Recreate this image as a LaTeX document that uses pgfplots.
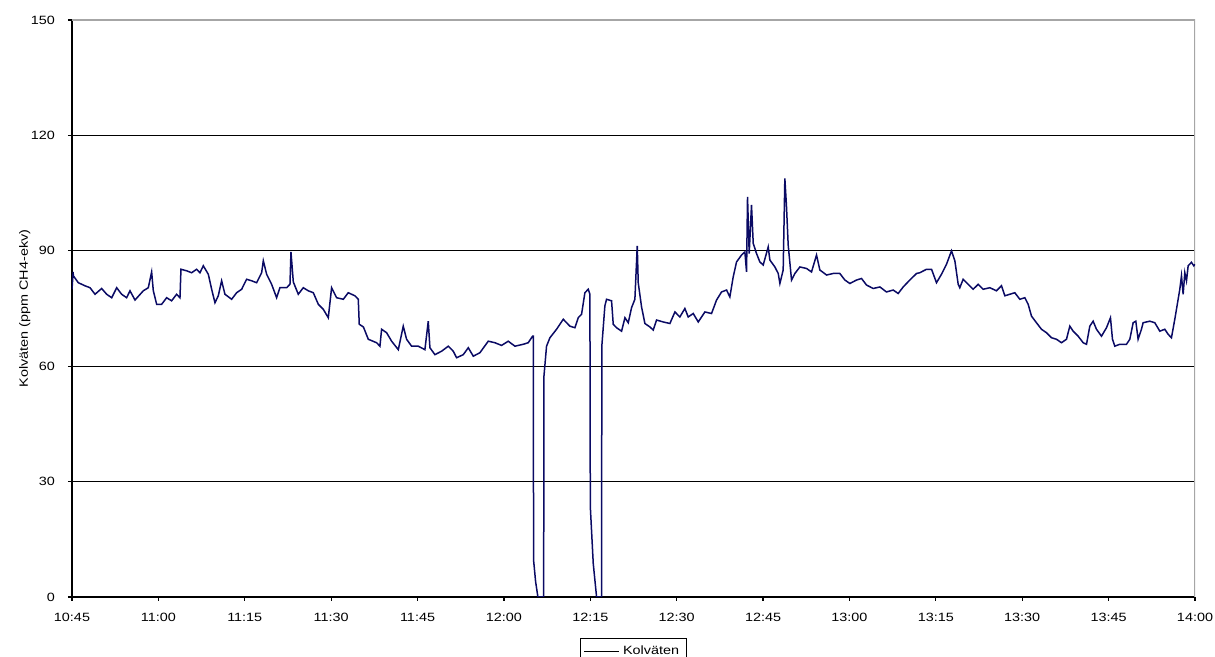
\documentclass[border=0pt]{standalone}
\usepackage{fontspec}
\setmainfont{Liberation Sans}
\newfontfamily\widefont[FakeStretch=1.2]{Liberation Sans}
\usepackage{pgfplots}
\pgfplotsset{compat=1.18}
\definecolor{navyline}{RGB}{10,10,100}
\begin{document}
\begin{tikzpicture}
\begin{axis}[
  scale only axis,
  width=561.5pt, height=288.5pt,
  xmin=0, xmax=195, ymin=0, ymax=150,
  axis lines*=left,
  axis line style={black, line width=0.7pt},
  xtick={0,15,...,195},
  xticklabels={10:45,11:00,11:15,11:30,11:45,12:00,12:15,12:30,12:45,13:00,13:15,13:30,13:45,14:00},
  ytick={0,30,60,90,120},
  extra y ticks={150},
  extra y tick style={grid=none},
  ymajorgrids,
  grid style={black, line width=0.6pt},
  tick align=outside,
  major tick length=2pt,
  tick style={black, line width=0.6pt},
  /pgf/number format/assume math mode=true,
  tick label style={font=\widefont\fontsize{6}{7}\selectfont},
  xticklabel style={yshift=-2.5pt},
  yticklabel style={xshift=-3pt},
  ylabel={Kolväten (ppm CH4-ekv)},
  ylabel style={font=\widefont\fontsize{6}{7}\selectfont, at={(axis description cs:-0.042,0.5)}, anchor=center, rotate=0},
  legend style={at={(0.5,-0.071)}, anchor=north, draw=black, line width=0.5pt, font=\widefont\fontsize{6}{7}\selectfont, inner sep=1.5pt, legend cell align=left},
  legend image post style={line width=0.5pt, black},
]
\draw[gray!70, line width=0.6pt] (rel axis cs:0,1) -- (rel axis cs:1,1) -- (rel axis cs:1,0);
\addplot[navyline, line width=0.75pt, sharp plot, line join=miter] coordinates {
(0,80) (0.2,84.5) (0.23,83.5) (1.10,81.7) (2.26,80.9) (3.13,80.4) (4.0,78.7) (5.15,80.2)
(6.02,78.7) (6.89,77.8) (7.76,80.4) (8.62,78.7) (9.49,77.8) (10.07,79.6) (10.94,77.2)
(12.38,79.6) (13.25,80.4) (13.83,84.5) (14.12,79.6) (14.7,76.1) (15.57,76.1) (16.43,77.8)
(17.3,77.0) (18.17,78.7) (18.75,77.8) (18.92,85.2) (19.9,84.8) (20.78,84.3) (21.64,85.2)
(22.22,84.3) (22.8,86.1) (23.67,83.9) (24.25,80.0) (24.83,76.5) (25.4,78.3) (25.98,82.2)
(26.56,78.7) (27.72,77.4) (28.59,79.1) (29.46,80.0) (30.32,82.6) (31.19,82.2) (32.06,81.7)
(32.93,84.3) (33.22,87.4) (33.8,83.9) (34.66,81.3) (35.53,77.8) (36.11,80.4) (37.27,80.4)
(37.85,81.3) (38.02,89.7) (38.43,81.9) (39.29,78.7) (40.16,80.4) (41.03,79.6) (41.9,79.1)
(42.77,76.1) (43.63,74.8) (44.5,72.6) (45.08,80.4) (45.95,77.8) (47.11,77.4) (47.97,79.1)
(49.13,78.3) (49.71,77.4) (49.88,70.9) (50.6,70.2) (51.45,67.0) (52.89,66.1) (53.47,65.2)
(53.76,69.6) (54.63,68.7) (55.5,66.5) (56.66,64.3) (57.52,70.4) (58.1,67.0) (58.97,65.2)
(60.13,65.2) (61.28,64.3) (61.86,71.7) (62.15,64.8) (63.02,63.0) (64.18,63.9) (65.34,65.2)
(66.2,63.9) (66.78,62.2) (67.94,63.0) (68.81,64.8) (69.68,62.6) (70.83,63.5) (72.28,66.5)
(73.44,66.1) (74.59,65.4) (75.75,66.5) (76.91,65.2) (78.36,65.7) (79.22,66.1) (79.98,67.8)
(80.1,67.8) (80.15,9.6) (80.5,4) (80.9,0) (81.9,0) (81.95,57.4) (82.4,65.2) (82.99,67.4)
(84.14,69.6) (84.72,70.9) (85.3,72.2) (86.46,70.4) (87.33,70.0) (87.9,72.6) (88.48,73.5)
(89.06,79.1) (89.64,80.0) (89.93,78.7) (90.0,23.5) (90.51,8.7) (91.09,0) (91.96,0)
(92.0,65.2) (92.53,75.7) (92.82,77.4) (93.69,77.0) (93.98,70.9) (94.56,70.0) (95.43,69.1)
(96.01,72.6) (96.59,71.3) (97.16,75.2) (97.74,77.4) (98.15,91.3) (98.32,81.7) (98.9,75.4)
(99.48,71.1) (100.35,70.2) (100.92,69.4) (101.5,72.0) (102.66,71.5) (103.82,71.1)
(104.69,74.1) (105.55,72.8) (106.42,75.0) (107.0,72.8) (107.87,73.7) (108.74,71.5)
(109.9,74.1) (111.05,73.7) (111.92,77.2) (112.79,79.3) (113.66,79.8) (114.23,78.0)
(114.81,83.2) (115.39,87.1) (116.26,88.9) (116.84,89.7) (117.13,84.5) (117.3,104)
(117.59,89.3) (117.99,101.9) (118.29,91.9) (118.86,89.3) (119.44,87.1) (120.02,86.3)
(120.89,91.0) (121.18,87.6) (122.05,85.8) (122.63,84.1) (122.92,81.5) (123.49,85.0)
(123.78,108.8) (124.07,101.4) (124.36,91.5) (124.94,82.4) (125.52,84.1) (126.39,85.8)
(127.55,85.4) (128.41,84.5) (129.28,88.9) (129.86,85.0) (131.02,83.7) (132.17,84.1)
(133.33,84.1) (134.2,82.4) (135.07,81.5) (136.23,82.4) (137.09,82.8) (137.96,81.1)
(139.12,80.2) (140.28,80.6) (141.43,79.3) (142.59,79.8) (143.46,78.9) (144.33,80.6)
(145.48,82.4) (146.64,84.1) (147.22,84.3) (148.38,85.2) (149.25,85.2) (150.11,81.7)
(150.98,83.9) (151.85,86.5) (152.72,90.0) (153.3,87.4) (153.88,81.3) (154.16,80.4)
(154.74,82.6) (155.61,81.3) (156.48,80.0) (157.35,81.3) (158.22,80.0) (159.37,80.4)
(160.53,79.6) (161.4,80.9) (161.98,78.3) (162.84,78.7) (163.71,79.1) (164.58,77.4)
(165.45,77.8) (166.03,76.1) (166.61,73.0) (167.47,71.3) (168.34,69.6) (169.21,68.7)
(170.08,67.4) (170.95,67.0) (171.81,66.1) (172.68,67.0) (173.26,70.4) (173.84,69.1)
(174.71,67.8) (175.58,66.1) (176.16,65.7) (176.73,70.4) (177.31,71.7) (177.89,69.6)
(178.76,67.8) (179.63,70.0) (180.32,72.6) (180.67,67.0) (181.07,65.2) (181.94,65.7)
(183.1,65.7) (183.68,67.0) (184.26,71.3) (184.72,71.7) (185.12,67.0) (185.7,69.6)
(185.99,71.3) (187.15,71.7) (188.02,71.3) (188.89,69.1) (189.75,69.6) (190.33,68.3)
(190.91,67.4) (191.49,72.2) (192.07,77.4) (192.36,80.0) (192.65,83.5) (192.94,78.7)
(193.23,84.3) (193.52,82.2) (193.81,86.1) (194.38,87.0) (194.79,86.1) (195,86.5)
};
\addlegendentry{Kolväten}
\end{axis}
\pgfresetboundingbox
\path[use as bounding box] ([xshift=-36pt,yshift=-30pt]current axis.origin) rectangle ([xshift=10pt,yshift=10pt]current axis.north east);
\end{tikzpicture}
\end{document}
